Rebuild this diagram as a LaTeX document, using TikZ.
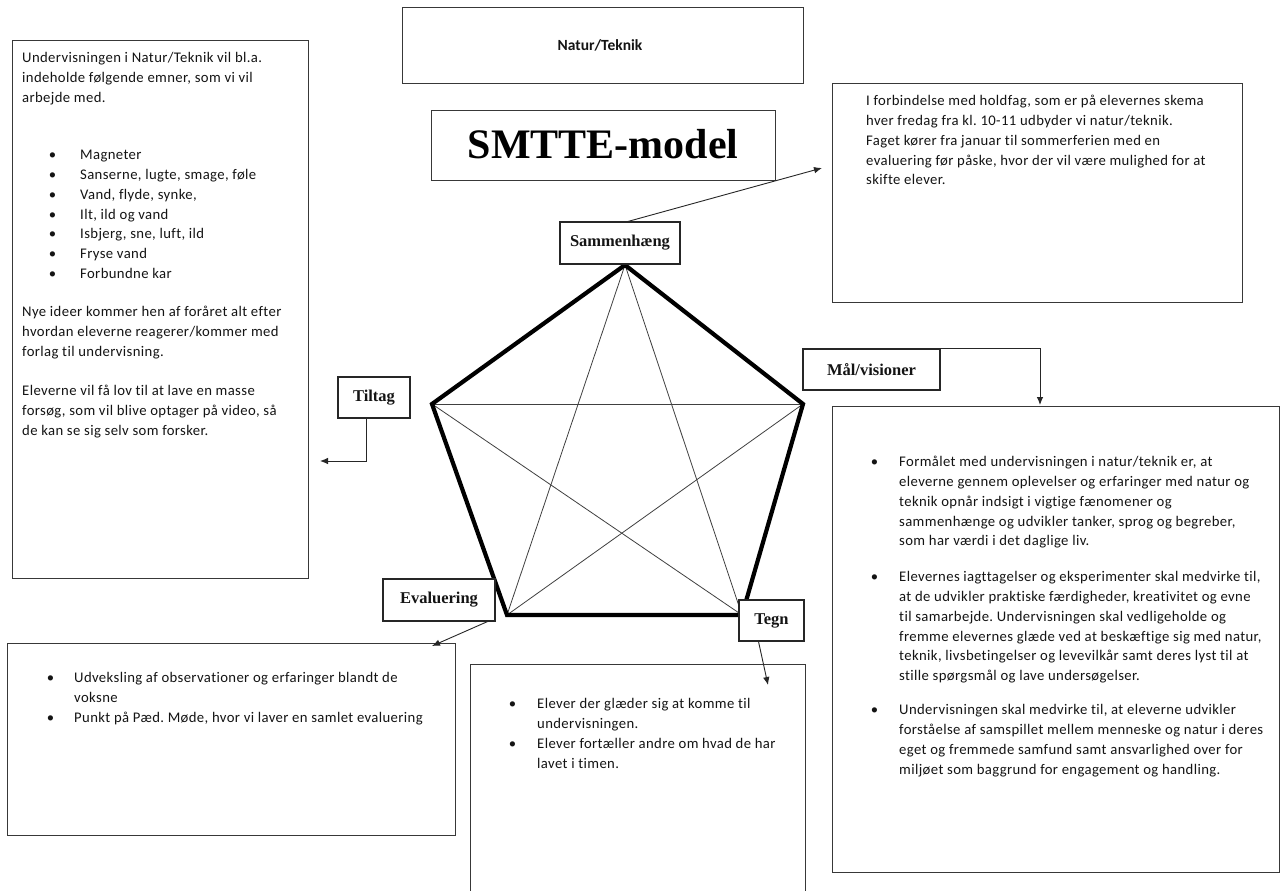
\documentclass[tikz,border=0pt]{standalone}
\usepackage{fontspec}
\setmainfont{Carlito}
\newfontfamily\bodyfont[LetterSpace=2.6,Ligatures=NoCommon]{Carlito}
\newfontfamily\lblfont{Liberation Serif}
\usetikzlibrary{arrows.meta,calc}
\newcommand\mybul[1]{\llap{\textbullet\hspace{#1}}}
\frenchspacing
\begin{document}
\begin{tikzpicture}[x=1pt,y=-1pt,
  box/.style={draw=black!78, line width=1.1pt, fill=white, inner sep=0pt, anchor=north west},
  body/.style={anchor=north west, inner sep=0pt, align=left, text=black!92, font=\bodyfont\fontsize{14.7}{19.7}\selectfont\frenchspacing},
  lab/.style={draw=black!85, line width=1.1pt, fill=white, inner sep=0pt, text=black!92, font=\lblfont\bfseries\fontsize{16.5}{19}\selectfont},
  rim/.style={line width=4.2pt, line join=miter},
  diag/.style={line width=0.8pt, draw=black!75},
  arr/.style={draw=black!85, line width=0.9pt, -{Latex[length=8pt,width=6.5pt]}}
]
\useasboundingbox[fill=white] (0,0) rectangle (1280,891);

% big boxes
\node[box, minimum width=401pt, minimum height=76pt] (nt) at (402,7) {};
\node[font=\bfseries\fontsize{15.5}{19}\selectfont, text=black!92] (ntt) at (600,45) {Natur/Teknik};
\node[box, minimum width=344pt, minimum height=70pt] (sm) at (431,110) {};
\node[font=\lblfont\bfseries\fontsize{42}{46}\selectfont] (smt) at (603,144) {SMTTE-model};

\node[box, minimum width=296pt, minimum height=538pt] (tl) at (12,40) {};
\node[box, minimum width=410pt, minimum height=219pt] (rt) at (832,83) {};
\node[box, minimum width=447pt, minimum height=466pt] (rb) at (832,406) {};
\node[box, minimum width=448pt, minimum height=192pt] (ev) at (7,643) {};
\node[box, minimum width=335pt, minimum height=240pt] (tg) at (470,664) {};

% texts
\node[body] (tl1) at (22,49) {\strut Undervisningen i Natur/Teknik vil bl.a.\\indeholde følgende emner, som vi vil\\arbejde med.};
\node[body] (tl2) at (80,146) {\strut\mybul{24pt}Magneter\\\mybul{24pt}Sanserne, lugte, smage, føle\\\mybul{24pt}Vand, flyde, synke,\\\mybul{24pt}Ilt, ild og vand\\\mybul{24pt}Isbjerg, sne, luft, ild\\\mybul{24pt}Fryse vand\\\mybul{24pt}Forbundne kar};
\node[body] (tl3) at (22,303) {\strut Nye ideer kommer hen af foråret alt efter\\hvordan eleverne reagerer/kommer med\\forlag til undervisning.};
\node[body] (tl4) at (22,382) {\strut Eleverne vil få lov til at lave en masse\\forsøg, som vil blive optager på video, så\\de kan se sig selv som forsker.};

\node[body] (rtt) at (866,92) {\strut I forbindelse med holdfag, som er på elevernes skema\\hver fredag fra kl.\ 10-11 udbyder vi natur/teknik.\\Faget kører fra januar til sommerferien med en\\evaluering før påske, hvor der vil være mulighed for at\\skifte elever.};

\node[body] (rb1) at (899,453) {\strut\mybul{21pt}Formålet med undervisningen i natur/teknik er, at\\eleverne gennem oplevelser og erfaringer med natur og\\teknik opnår indsigt i vigtige fænomener og\\sammenhænge og udvikler tanker, sprog og begreber,\\som har værdi i det daglige liv.};
\node[body] (rb2) at (899,568) {\strut\mybul{21pt}Elevernes iagttagelser og eksperimenter skal medvirke til,\\at de udvikler praktiske færdigheder, kreativitet og evne\\til samarbejde. Undervisningen skal vedligeholde og\\fremme elevernes glæde ved at beskæftige sig med natur,\\teknik, livsbetingelser og levevilkår samt deres lyst til at\\stille spørgsmål og lave undersøgelser.};
\node[body] (rb3) at (899,701) {\strut\mybul{21pt}Undervisningen skal medvirke til, at eleverne udvikler\\forståelse af samspillet mellem menneske og natur i deres\\eget og fremmede samfund samt ansvarlighed over for\\miljøet som baggrund for engagement og handling.};

\node[body] (evt) at (74,669) {\strut\mybul{20pt}Udveksling af observationer og erfaringer blandt de\\voksne\\\mybul{20pt}Punkt på Pæd.\ Møde, hvor vi laver en samlet evaluering};
\node[body] (tgt) at (537,695) {\strut\mybul{21pt}Elever der glæder sig at komme til\\undervisningen.\\\mybul{21pt}Elever fortæller andre om hvad de har\\lavet i timen.};

% pentagon
\coordinate (P1) at (625,265);
\coordinate (P2) at (432,404);
\coordinate (P3) at (803,404);
\coordinate (P4) at (507,615);
\coordinate (P5) at (742,615);
\draw[diag] (P1) -- (P4);
\draw[diag] (P1) -- (P5);
\draw[diag] (P2) -- (P3);
\draw[diag] (P2) -- (P5);
\draw[diag] (P3) -- (P4);
\draw[rim] (P1) -- (P2) -- (P4) -- (P5) -- (P3) -- cycle;

% labels
\node[lab, minimum width=120pt, minimum height=42pt] (sam) at (620,243) {Sammenhæng};
\node[lab, minimum width=137pt, minimum height=41pt] (maal) at (871.5,369.5) {Mål/visioner};
\node[lab, minimum width=72pt, minimum height=41pt] (tilt) at (374,397.5) {Tiltag};
\node[lab, minimum width=112pt, minimum height=42pt] (eval) at (439,600) {Evaluering};
\node[lab, minimum width=65pt, minimum height=41pt] (tegn) at (771.5,620.5) {Tegn};

% connectors
\coordinate (samtip) at (822,168);
\coordinate (maaltip) at (1040,405);
\coordinate (tilttip) at (320,461);
\coordinate (evaltip) at (432,646);
\coordinate (tegntip) at (768,685);
\draw[arr] ($(sam.north)+(8,0)$) -- (samtip);
\draw[arr] (maal.north east) -| (maaltip);
\draw[arr] ($(tilt.south)+(-8,0)$) |- (tilttip);
\draw[arr] ($(eval.south east)+(-8,0)$) -- (evaltip);
\draw[arr] ($(tegn.south)+(-13,0)$) -- (tegntip);
\end{tikzpicture}
\end{document}
